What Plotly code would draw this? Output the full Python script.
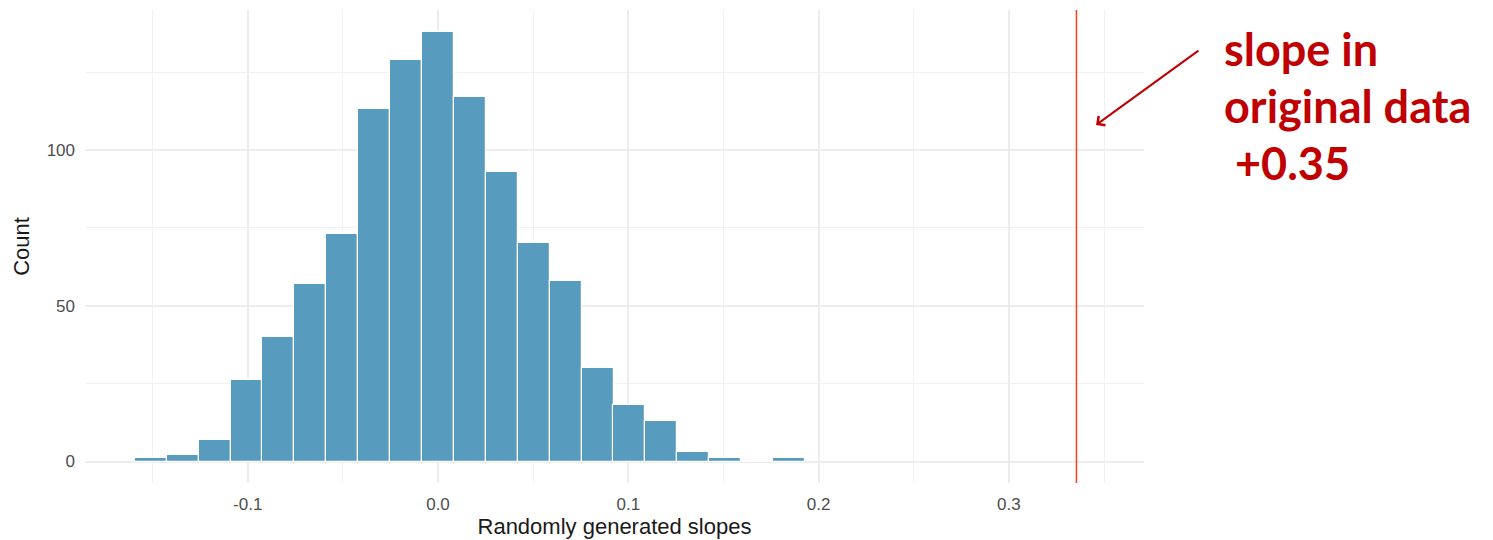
import plotly.graph_objects as go

# Permutation histogram of slopes (bin centres, counts)
bin_centers = [-0.1509, -0.1342, -0.1174, -0.1006, -0.0839, -0.0671, -0.0503,
               -0.0335, -0.0168, 0.0000, 0.0168, 0.0335, 0.0503, 0.0671,
               0.0839, 0.1006, 0.1174, 0.1342, 0.1509, 0.1677, 0.1845]
counts = [1, 2, 7, 26, 40, 57, 73, 113, 129, 138, 117, 93, 70, 58,
          30, 18, 13, 3, 1, 0, 1]
bin_width = 0.01677

# Slope observed in the original data
observed_slope = 0.3355

x_ticks = [-0.1, 0.0, 0.1, 0.2, 0.3]
x_tick_labels = ["-0.1", "0.0", "0.1", "0.2", "0.3"]
y_ticks = [0, 50, 100]
y_tick_labels = ["0", "50", "100"]

annotation_lines = ["slope in", "original data", " +0.35"]

W, H = 1493, 540
M_L, M_R, M_T, M_B = 85, 349, 10, 57

fig = go.Figure()
fig.add_trace(go.Bar(
    x=bin_centers, y=counts, width=[bin_width] * len(counts),
    marker=dict(color="#579BBE", line=dict(color="white", width=1.2)),
    showlegend=False, hoverinfo="x+y",
))

fig.add_shape(type="line", xref="x", yref="paper",
              x0=observed_slope, x1=observed_slope, y0=0, y1=1,
              line=dict(color="#EE4B2B", width=1.6), layer="above")

axis_font = dict(family="Liberation Sans, Arial, sans-serif", size=17, color="#4D4D4D")
title_font = dict(family="Liberation Sans, Arial, sans-serif", size=22, color="#1A1A1A")

fig.update_layout(
    width=W, height=H,
    margin=dict(l=M_L, r=M_R, t=M_T, b=M_B, pad=0),
    paper_bgcolor="white", plot_bgcolor="white",
    bargap=0,
    xaxis=dict(
        range=[-0.1855, 0.371], tickvals=x_ticks, ticktext=x_tick_labels,
        showgrid=True, gridcolor="#EDEDED", gridwidth=1.5, zeroline=False,
        showline=False, ticks="", tickfont=axis_font, ticklabelstandoff=9,
        minor=dict(dtick=0.1, tick0=0.05, showgrid=True, gridcolor="#F1F1F1", gridwidth=1.3),
        title=dict(text="Randomly generated slopes", font=title_font, standoff=4),
        automargin=False,
    ),
    yaxis=dict(
        range=[-6.9, 144.9], tickvals=y_ticks, ticktext=y_tick_labels,
        showgrid=True, gridcolor="#EDEDED", gridwidth=1.5, zeroline=False,
        showline=False, ticks="", tickfont=axis_font, ticklabelstandoff=9,
        minor=dict(dtick=50, tick0=25, showgrid=True, gridcolor="#F1F1F1", gridwidth=1.3),
        title=dict(text="Count", font=title_font, standoff=10),
        automargin=False,
    ),
)

# Callout arrow pointing at the observed slope line
fig.add_annotation(
    x=0.3458, y=108, xref="x", yref="y",
    ax=0.4004, ay=132.2, axref="x", ayref="y",
    text="", showarrow=True, arrowhead=4, arrowsize=1.1, arrowwidth=2,
    arrowcolor="#C00000", standoff=0,
)

# Callout text, one annotation per line
line_y = [0.917, 0.796, 0.676]
for txt, yy in zip(annotation_lines, line_y):
    fig.add_annotation(
        x=1.0737, y=yy, xref="paper", yref="paper",
        xanchor="left", yanchor="middle", showarrow=False,
        text="<b>" + txt.replace(" ", "&nbsp;") + "</b>",
        font=dict(family="Lato, sans-serif", size=45, color="#C00000"),
    )

fig.write_html("out.html")
